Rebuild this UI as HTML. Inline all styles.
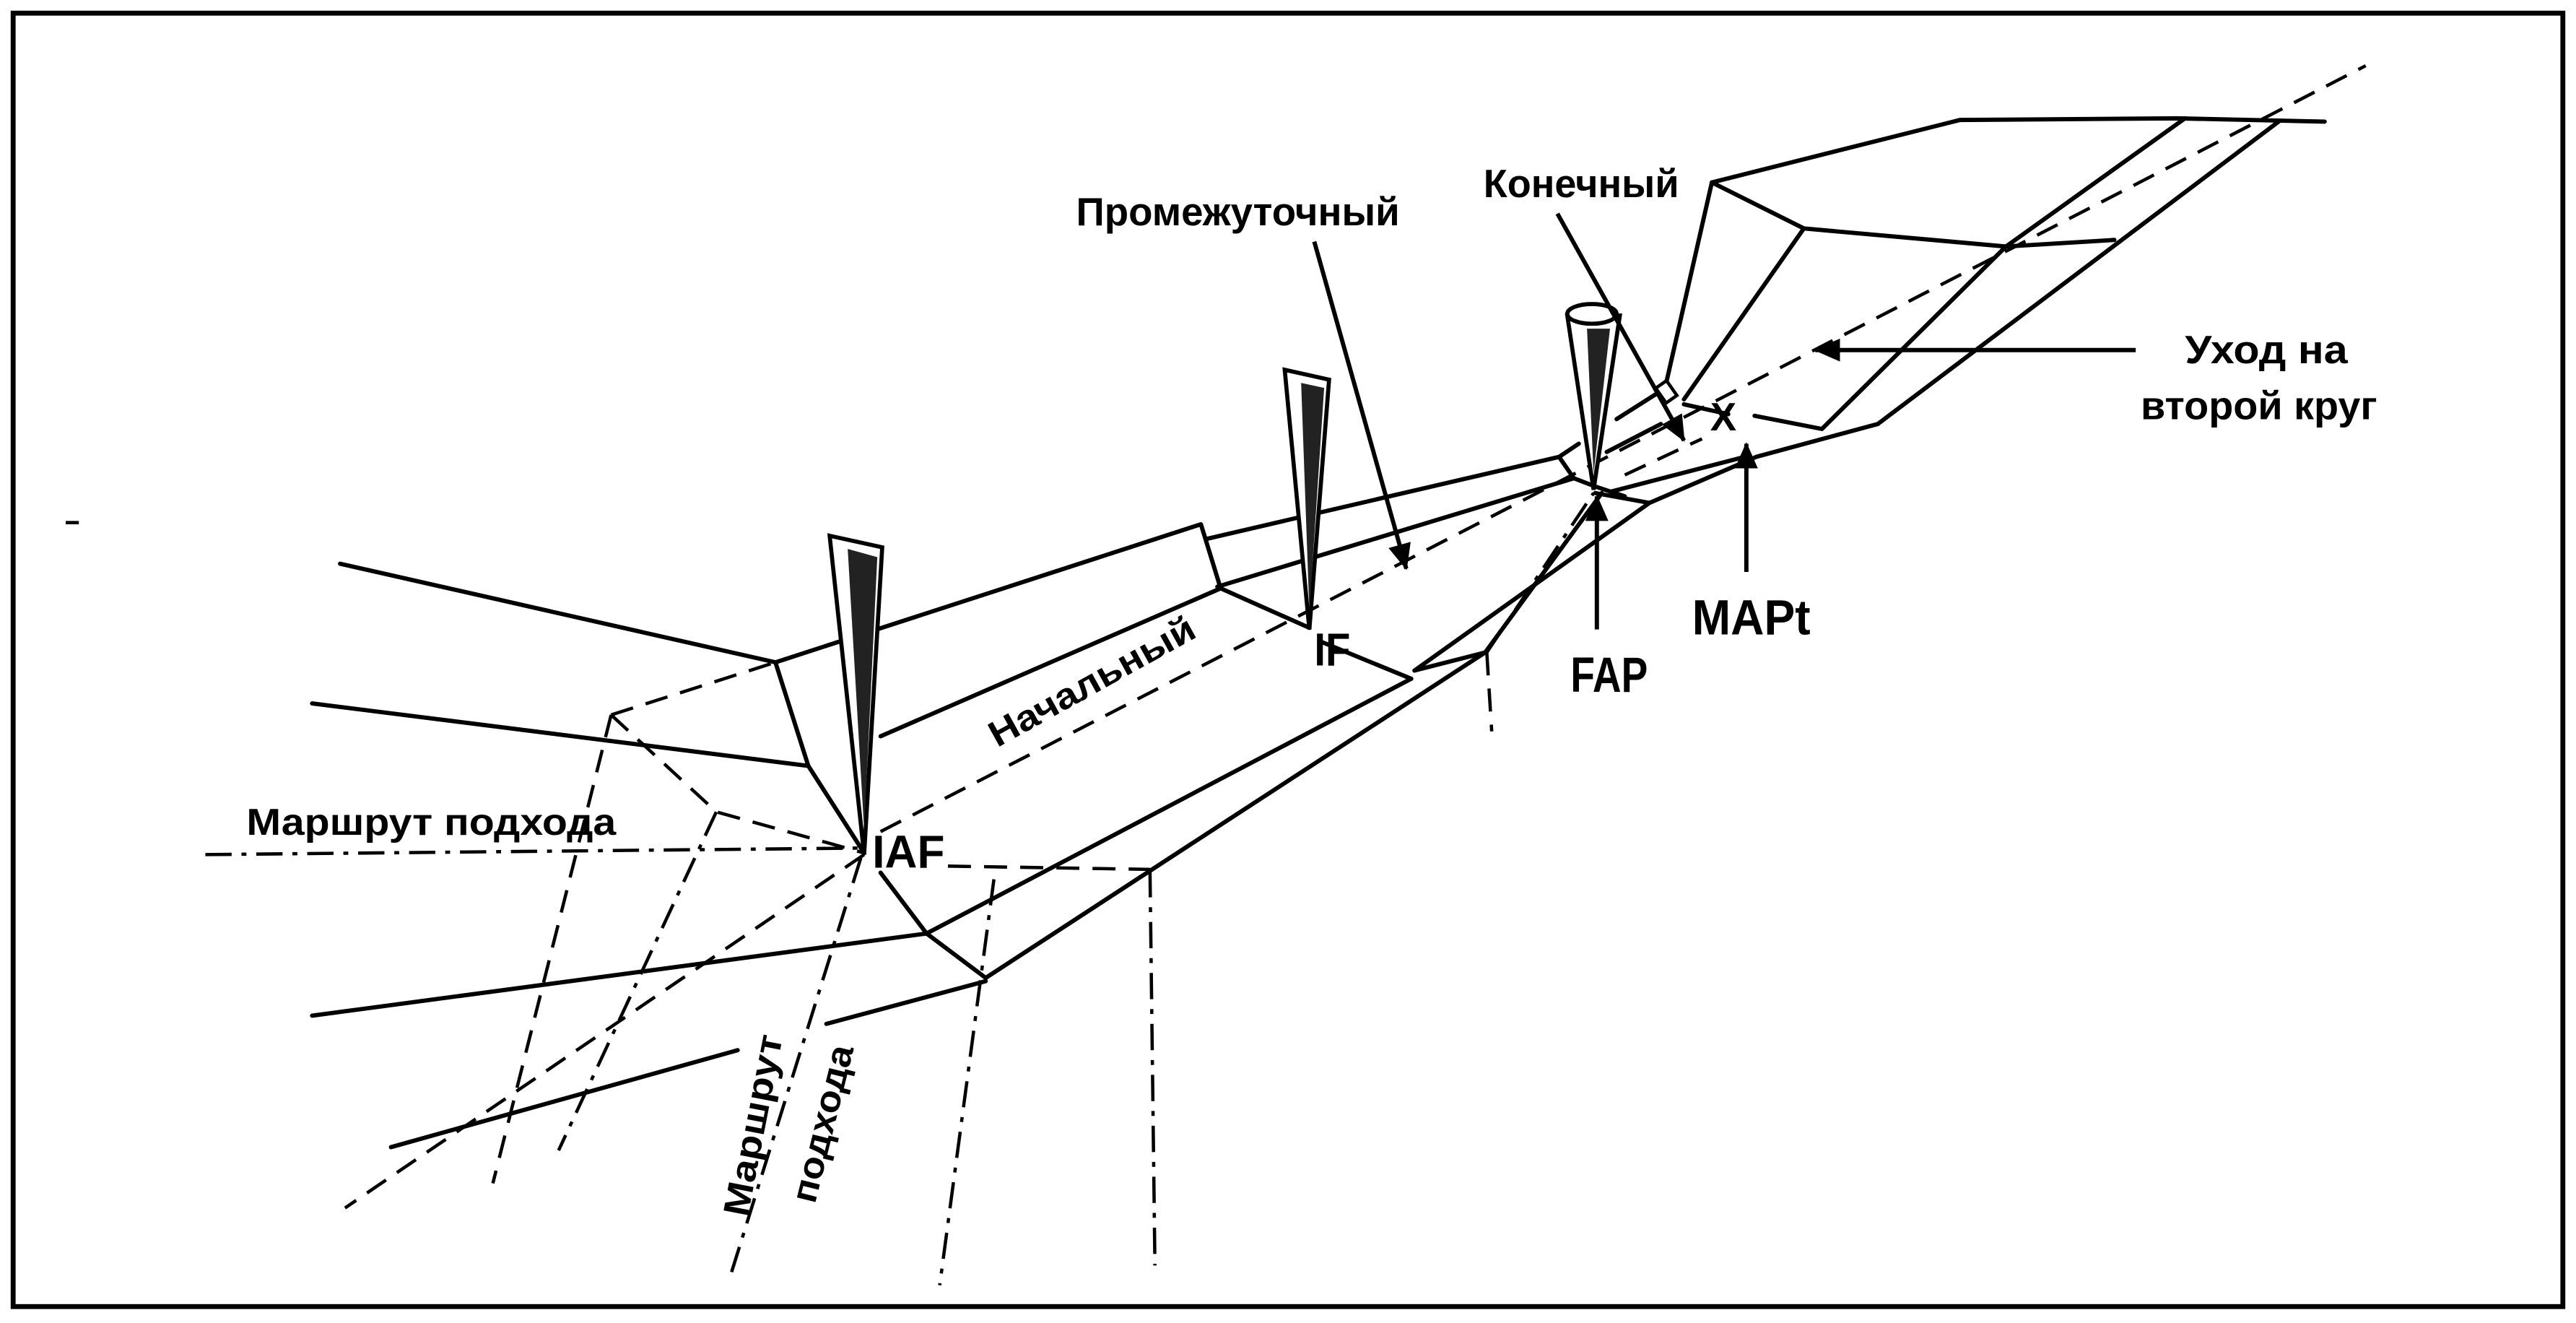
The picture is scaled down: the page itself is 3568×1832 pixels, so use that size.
<!DOCTYPE html>
<html><head><meta charset="utf-8"><style>
html,body{margin:0;padding:0;background:#fff;}
svg{display:block;}
text{font-family:"Liberation Sans","DejaVu Sans",sans-serif;fill:#000;font-weight:bold;}
</style></head><body>
<svg width="3568" height="1832" viewBox="0 0 1568 805" preserveAspectRatio="none" xmlns="http://www.w3.org/2000/svg">
<defs>
<marker id="ah2" markerWidth="16" markerHeight="14" refX="15" refY="7" orient="auto" markerUnits="userSpaceOnUse"><path d="M0,0 L16,7 L0,14 z" fill="#000"/></marker></defs>
<rect x="8" y="8" width="1552" height="787" fill="none" stroke="#000" stroke-width="3"/>
<g fill="none" stroke="#000" stroke-width="2.6" stroke-linejoin="round" stroke-linecap="round">
<!-- left wings -->
<polyline points="207,343 472,403 731,319 743,358 797,382"/>
<polyline points="472,403 492,466 526,519"/>
<line x1="190" y1="428" x2="492" y2="466"/>
<line x1="536" y1="448" x2="743" y2="358"/>
<polyline points="536,531 564,568 600,595"/>
<line x1="190" y1="618" x2="564" y2="568"/>
<line x1="238" y1="698" x2="449" y2="639"/>
<line x1="503" y1="623" x2="600" y2="597"/>
<line x1="564" y1="568" x2="859" y2="413"/>
<polyline points="600,595 904,397 861,408"/>
<polyline points="803,390 859,413"/>
<!-- middle -->
<polyline points="734,328 949,278 961,270"/>
<polyline points="741,357 958,291"/>
<polyline points="949,278 958,291 971,296 989,302"/>
<line x1="861" y1="408" x2="1004" y2="306"/>
<line x1="904" y1="397" x2="975" y2="300"/>
<line x1="981" y1="299" x2="1062" y2="278"/>
<polyline points="971,300 1004,306 1069,278 1143,258"/>
<line x1="978" y1="275" x2="1011" y2="258"/>
<line x1="984" y1="255" x2="1014" y2="236"/>
<!-- top right -->
<polyline points="1014,234 1042,111 1193,73 1325,72 1415,74"/>
<polyline points="1042,111 1098,139 1221,150 1287,146"/>
<line x1="1098" y1="139" x2="1025" y2="243"/>
<polyline points="1330,72 1221,150 1109,261 1068,253"/>
<line x1="1387" y1="74" x2="1143" y2="258"/>
<line x1="1025" y1="246" x2="1052" y2="252"/>
</g>
<rect x="1010" y="233" width="8" height="11" fill="#fff" stroke="#000" stroke-width="2" transform="rotate(-35 1014 238)"/>
<g fill="none" stroke="#000" stroke-width="2" stroke-dasharray="14,8">
<polyline points="372,435 436,494 526,519"/>
<line x1="372" y1="435" x2="472" y2="403"/>
<line x1="577" y1="527" x2="700" y2="529"/>
<line x1="905" y1="397" x2="908" y2="445"/>
<line x1="536" y1="506" x2="1440" y2="40"/>
<line x1="526" y1="520" x2="210" y2="735"/>
<line x1="372" y1="435" x2="300" y2="720"/>
<line x1="989" y1="289" x2="1036" y2="267"/>
</g>
<g fill="none" stroke="#000" stroke-width="2" stroke-dasharray="16,6,3,6">
<line x1="125" y1="520" x2="526" y2="516"/>
<line x1="524" y1="522" x2="445" y2="775"/>
<line x1="605" y1="535" x2="572" y2="782"/>
<line x1="700" y1="530" x2="703" y2="770"/>
<line x1="436" y1="494" x2="340" y2="700"/>
<line x1="905" y1="397" x2="970" y2="300"/>
</g>
<!-- beacons -->
<path d="M505,326 L537,333 L526,520 Z" fill="#fff" stroke="#000" stroke-width="2.5"/>
<path d="M516,334 L534,339 L526,505 Z" fill="#222"/>
<path d="M782,225 L809,231 L797,383 Z" fill="#fff" stroke="#000" stroke-width="2.5"/>
<path d="M792,233 L806,236 L797,372 Z" fill="#222"/>
<path d="M954,192 L986,192 L970,298 Z" fill="#fff" stroke="#000" stroke-width="2.5"/>
<ellipse cx="969" cy="191" rx="15" ry="6" fill="#fff" stroke="#000" stroke-width="2.5"/>
<path d="M966,200 L980,200 L970,288 Z" fill="#222"/>
<!-- arrows -->
<g stroke="#000" stroke-width="2.6" fill="none">
<line x1="800" y1="147" x2="856" y2="346" marker-end="url(#ah2)"/>
<line x1="948" y1="130" x2="1025" y2="268" marker-end="url(#ah2)"/>
<line x1="1300" y1="213" x2="1105" y2="213" marker-end="url(#ah2)"/>
<line x1="1063" y1="348" x2="1063" y2="270" marker-end="url(#ah2)"/>
<line x1="972" y1="383" x2="972" y2="302" marker-end="url(#ah2)"/>
</g>
<text x="1049" y="262" font-size="24" text-anchor="middle">X</text>
<text x="655" y="137" font-size="24" textLength="197" lengthAdjust="spacingAndGlyphs">Промежуточный</text>
<text x="903" y="120" font-size="24" textLength="119" lengthAdjust="spacingAndGlyphs">Конечный</text>
<text x="1330" y="221" font-size="24" textLength="99" lengthAdjust="spacingAndGlyphs">Уход на</text>
<text x="1303" y="255" font-size="24" textLength="144" lengthAdjust="spacingAndGlyphs">второй круг</text>
<text x="1030" y="386" font-size="30" textLength="72" lengthAdjust="spacingAndGlyphs">MAPt</text>
<text x="956" y="421" font-size="30" textLength="47" lengthAdjust="spacingAndGlyphs">FAP</text>
<text x="800" y="405" font-size="28" textLength="22" lengthAdjust="spacingAndGlyphs">IF</text>
<text x="531" y="528" font-size="28" textLength="44" lengthAdjust="spacingAndGlyphs">IAF</text>
<text x="150" y="508" font-size="23" textLength="225" lengthAdjust="spacingAndGlyphs">Маршрут подхода</text>
<text x="0" y="0" font-size="22" textLength="140" lengthAdjust="spacingAndGlyphs" transform="translate(607,455) rotate(-29)">Начальный</text>
<text x="0" y="0" font-size="22" textLength="112" lengthAdjust="spacingAndGlyphs" transform="translate(455,741) rotate(-79)">Маршрут</text>
<text x="0" y="0" font-size="22" textLength="98" lengthAdjust="spacingAndGlyphs" transform="translate(496,733) rotate(-76)">подхода</text>
<line x1="40" y1="318" x2="48" y2="318" stroke="#000" stroke-width="2"/>
</svg>
</body></html>
